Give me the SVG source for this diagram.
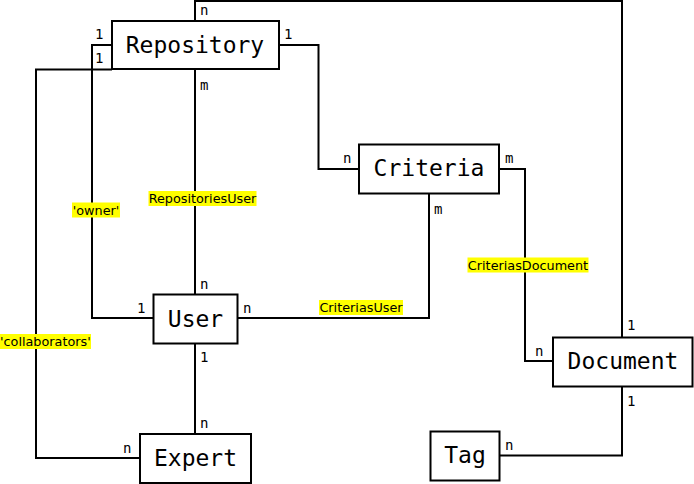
<svg xmlns="http://www.w3.org/2000/svg" width="694" height="484" viewBox="0 0 694 484">
<style>
.box{fill:#fff;stroke:#000;stroke-width:2}
.name{font-family:"DejaVu Sans Mono","Liberation Mono",monospace;font-size:23px;text-anchor:middle;fill:#000}
.card{font-family:"DejaVu Sans Mono","Liberation Mono",monospace;font-size:14px;fill:#000}
.edge{fill:none;stroke:#000;stroke-width:2}
.hl{fill:#ffff00}
.lbl{font-family:"DejaVu Sans","Liberation Sans",sans-serif;font-size:12.8px;fill:#000}
</style>
<rect width="694" height="484" fill="#fff"/>
<g id="connectors">
<path class="edge" d="M195,21 V1 H622 V337.5"/>
<path class="edge" d="M112,45 H92 V318 H153.5"/>
<path class="edge" d="M112,69.5 H36 V458 H140"/>
<path class="edge" d="M279,45 H318.5 V169 H359"/>
<path class="edge" d="M195,69 V294.5"/>
<path class="edge" d="M499,169 H525 V361 H553"/>
<path class="edge" d="M429,193.5 V318 H237.5"/>
<path class="edge" d="M195,343.5 V434"/>
<path class="edge" d="M622,386.5 V455.5 H500"/>
<rect class="hl" x="148.5" y="191" width="108" height="15"/>
<text class="lbl" x="202.5" y="203" text-anchor="middle">RepositoriesUser</text>
<rect class="hl" x="72" y="202.5" width="48" height="15"/>
<text class="lbl" x="96" y="214.5" text-anchor="middle">'owner'</text>
<rect class="hl" x="0" y="334" width="91" height="15"/>
<text class="lbl" x="0" y="346">'collaborators'</text>
<rect class="hl" x="319" y="300" width="84" height="15"/>
<text class="lbl" x="361" y="312" text-anchor="middle">CriteriasUser</text>
<rect class="hl" x="467.5" y="257.5" width="121" height="15"/>
<text class="lbl" x="528" y="269.5" text-anchor="middle">CriteriasDocument</text>
<text class="card" x="200" y="15">n</text>
<text class="card" x="95" y="39">1</text>
<text class="card" x="95" y="63">1</text>
<text class="card" x="284" y="39">1</text>
<text class="card" x="200" y="90">m</text>
<text class="card" x="343" y="163">n</text>
<text class="card" x="505" y="163">m</text>
<text class="card" x="434" y="214">m</text>
<text class="card" x="200" y="289">n</text>
<text class="card" x="137" y="313">1</text>
<text class="card" x="243" y="313">n</text>
<text class="card" x="535" y="356">n</text>
<text class="card" x="627" y="330">1</text>
<text class="card" x="627" y="406">1</text>
<text class="card" x="505" y="450">n</text>
<text class="card" x="200" y="362">1</text>
<text class="card" x="200" y="428">n</text>
<text class="card" x="123" y="453">n</text>
</g>
<g id="Repository"><rect class="box" x="112" y="21" width="167" height="48"/><text class="name" x="195" y="53">Repository</text></g>
<g id="Criteria"><rect class="box" x="359" y="144.5" width="140" height="49"/><text class="name" x="429" y="176">Criteria</text></g>
<g id="User"><rect class="box" x="153.5" y="294.5" width="84" height="49"/><text class="name" x="195.5" y="327">User</text></g>
<g id="Document"><rect class="box" x="553" y="337.5" width="139.5" height="49"/><text class="name" x="623" y="369">Document</text></g>
<g id="Tag"><rect class="box" x="430.5" y="431.5" width="69" height="49"/><text class="name" x="465" y="463">Tag</text></g>
<g id="Expert"><rect class="box" x="140" y="434" width="111" height="49"/><text class="name" x="195.5" y="466">Expert</text></g>
</svg>
